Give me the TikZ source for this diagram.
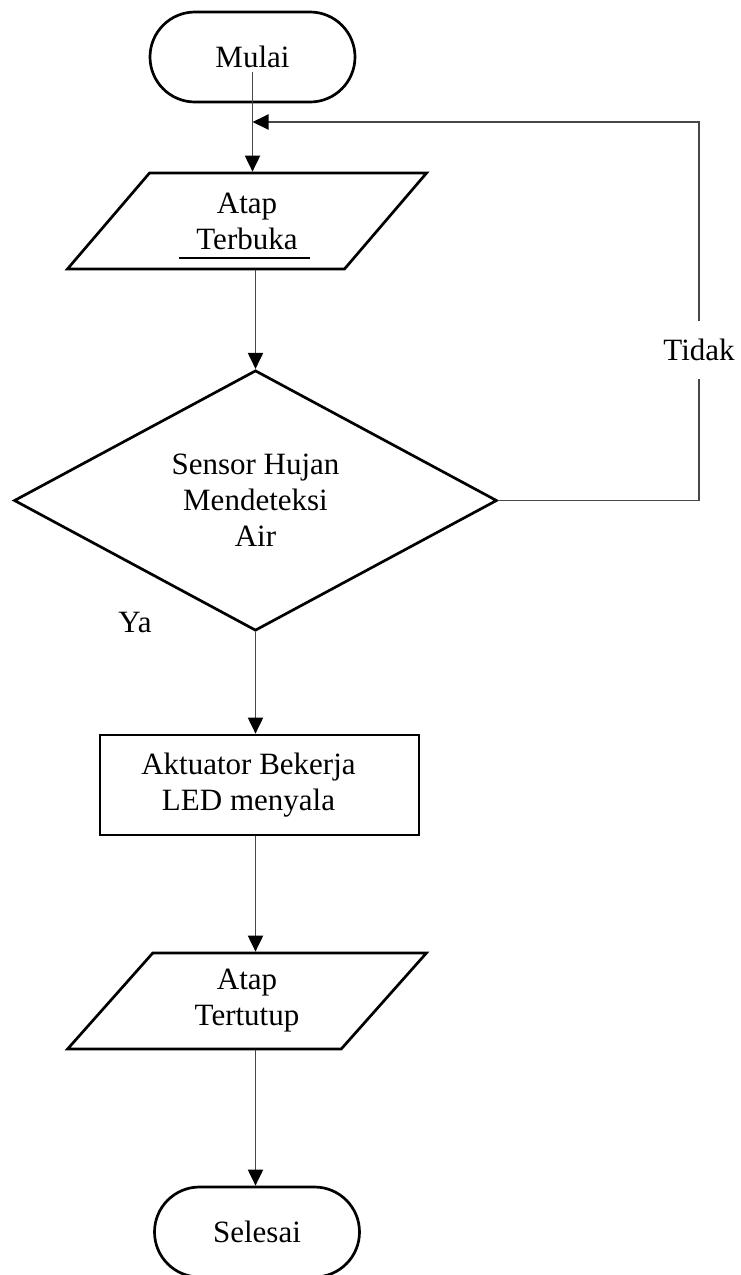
\documentclass[tikz,border=0pt]{standalone}
\usepackage{fontspec}
\setmainfont{Liberation Serif}
\usetikzlibrary{shapes.geometric,shapes.misc,arrows.meta}

\begin{document}
\begin{tikzpicture}[x=1pt,y=-1pt,
  every node/.style={font=\fontsize{31}{36}\selectfont},
  term/.style={rounded rectangle, draw, line width=2.7pt, minimum width=205pt, minimum height=90pt, inner sep=0pt},
  io/.style={trapezium, trapezium left angle=53.13, trapezium right angle=126.87, trapezium stretches=true,
    draw, line width=2.7pt, minimum width=360pt, minimum height=96pt, inner sep=0pt, align=center},
  decide/.style={diamond, draw, line width=2.7pt, minimum width=483pt, minimum height=251pt, inner sep=0pt, align=center},
  proc/.style={rectangle, draw, line width=2.7pt, minimum width=319pt, minimum height=100pt, inner sep=0pt},
  conn/.style={draw, line width=1.9pt, black!72, -{Triangle[length=16pt,width=15pt,black]}}]
  \useasboundingbox (0,0) rectangle (741,1275);
  \clip (0,0) rectangle (741,1275);
  \draw (252.5,57) node[term] (mulai) {Mulai};
  \draw (247,221) node[io] (terbuka) {Atap\\Terbuka};
  \draw (255.5,500.5) node[decide] (sensor) {Sensor Hujan\\Mendeteksi\\Air};
  \draw (259.5,785) node[proc, label={[align=center, xshift=-11pt]center:Aktuator Bekerja\\LED menyala}] (aktuator) {};
  \draw (247,1001) node[io] (tertutup) {Atap\\Tertutup};
  \draw (257,1232) node[term] (selesai) {Selesai};
  \draw (699,350) node[inner sep=0pt, minimum height=58pt] (tidak) {Tidak};
  \draw (135,622) node (ya) {Ya};
  \coordinate (start) at ([yshift=-15pt]mulai.center);
  \coordinate (gabung) at (start |- 0,122);
  \draw[line width=1.2pt] ([shift={(-68,37)}]terbuka.center) -- ([shift={(63,37)}]terbuka.center);
  \path[conn] (start) -- (start |- terbuka.north);
  \path[conn] (sensor.north |- terbuka.south) -- (sensor.north);
  \path[conn] (sensor.south) -- (sensor.south |- aktuator.north);
  \path[conn] (sensor.south |- aktuator.south) -- (sensor.south |- tertutup.north);
  \path[conn] (sensor.south |- tertutup.south) -- (sensor.south |- selesai.north);
  \path[draw, line width=1.9pt, black!72] (sensor.east) -| (tidak.south);
  \path[conn] (tidak.north) |- (gabung);
\end{tikzpicture}
\end{document}
